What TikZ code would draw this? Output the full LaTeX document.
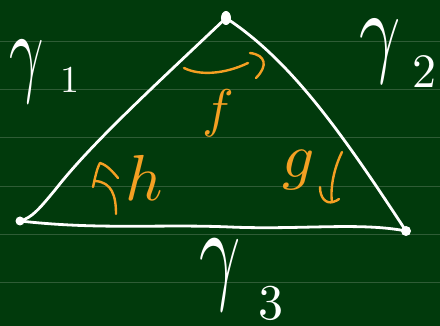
\documentclass[tikz,border=0pt]{standalone}
\definecolor{board}{HTML}{013A0C}
\definecolor{rule}{HTML}{2F5C36}
\definecolor{chalkorange}{HTML}{F4A023}
\tikzset{
  chalk/.style={white, line width=2.8pt, line cap=round, line join=round},
  ochalk/.style={chalkorange, line width=2.4pt, line cap=round, line join=round},
  wlabel/.style={white, inner sep=0pt, transform shape},
  olabel/.style={chalkorange, inner sep=0pt, transform shape},
}
\begin{document}
\begin{tikzpicture}[x=1pt,y=-1pt]
\fill[board] (0,0) rectangle (440,326);
\useasboundingbox (0,0) rectangle (440,326);
\foreach \yy in {42,90,138,187,235,283}
  \draw[rule, line width=1pt] (0,\yy) -- (440,\yy);
% vertices
\coordinate (T) at (226,18);
\coordinate (L) at (20,221);
\coordinate (R) at (406,231);
% triangle sides
\draw[chalk] (T) .. controls (150,90) and (90,145) .. (55,190) .. controls (40,208) and (32,218) .. (L);
\draw[chalk] (T) .. controls (290,60) and (340,130) .. (R);
\draw[chalk] (L) .. controls (100,230) and (160,224) .. (230,227) .. controls (300,230) and (360,222) .. (R);
\fill[white] (T) ellipse (5pt and 7pt);
\fill[white] (L) circle (4.5pt);
\fill[white] (R) circle (5pt);
% labels
\node[wlabel, xscale=6, yscale=10] (g1) at (27,72) {$\gamma$};
\node[wlabel, scale=3.8] (s1) at (70,80) {1};
\node[wlabel, xscale=7.2, yscale=10.2] (g2) at (380,51) {$\gamma$};
\node[wlabel, scale=4.8] (s2) at (424,72) {2};
\node[wlabel, xscale=7.2, yscale=11.4] (g3) at (220,275) {$\gamma$};
\node[wlabel, scale=5] (s3) at (271,303) {3};
\node[olabel, scale=5.3] (f) at (218,113) {$f$};
\node[olabel, scale=6.5] (h) at (144,178) {$h$};
\node[olabel, scale=6.3] (g) at (299,170) {$g$};
% f arrow
\coordinate (fa) at (184,68);
\coordinate (fb) at (248,63);
\draw[ochalk] (fa) .. controls (200,76) and (225,74) .. (fb);
\draw[ochalk] (250,53) .. controls (266,55) and (268,66) .. (256,78);
% h arrow
\coordinate (ha) at (116,214);
\coordinate (hb) at (95,181);
\draw[ochalk] (ha) .. controls (116,196) and (112,182) .. (hb);
\draw[ochalk] (93,187) .. controls (95,178) and (97,168) .. (100,163) .. controls (107,165) and (113,172) .. (118,178);
% g arrow
\coordinate (ga) at (342,152);
\coordinate (gb) at (332,202);
\draw[ochalk] (ga) .. controls (334,168) and (330,188) .. (gb);
\draw[ochalk] (320,187) .. controls (320,198) and (326,204) .. (333,202) .. controls (336,201) and (338,200) .. (339,199);
\end{tikzpicture}
\end{document}
